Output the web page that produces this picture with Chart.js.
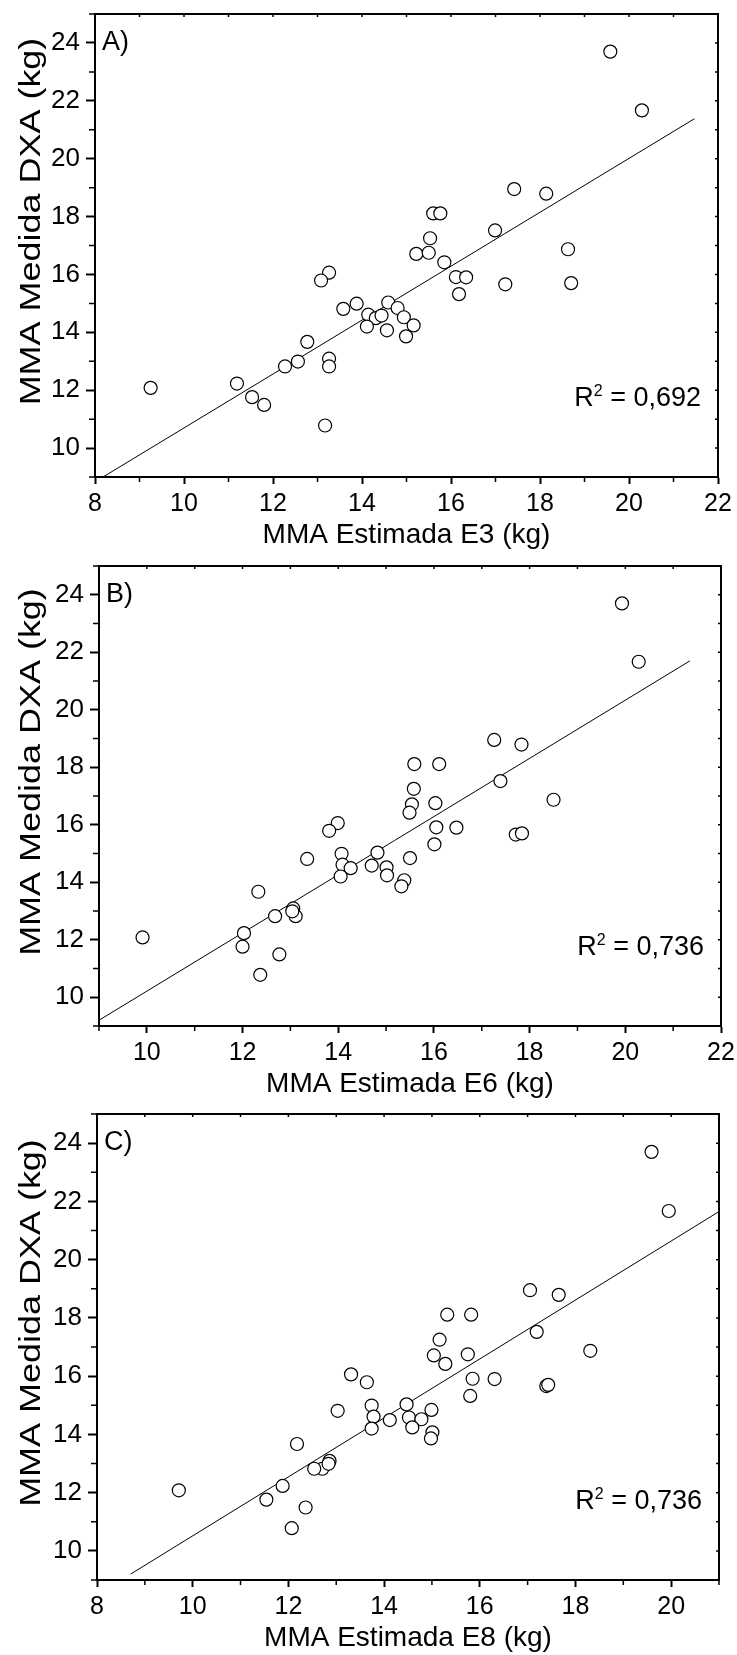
<!DOCTYPE html>
<html>
<head>
<meta charset="utf-8">
<script src="https://cdn.jsdelivr.net/npm/chart.js@4.4.0/dist/chart.umd.min.js"></script>
<style>
html, body { margin: 0; padding: 0; background: #fff; overflow: hidden; }
#wrap { position: relative; width: 737px; height: 1655px; }
canvas { position: absolute; left: 0; }
</style>
</head>
<body>
<div id="wrap">
  <canvas id="chartA" width="737" height="552" style="top:0px"></canvas>
  <canvas id="chartB" width="737" height="549" style="top:552px"></canvas>
  <canvas id="chartC" width="737" height="555" style="top:1100px"></canvas>
</div>
<script>
// MMA medida por DXA (mesmo individuo na mesma posicao em cada painel)
const mmaDXA = [23.70, 21.67, 18.95, 18.79, 18.11, 18.11, 17.52, 17.25, 16.87, 16.71,
  16.75, 16.42, 16.06, 15.79, 15.91, 15.90, 15.66, 15.70, 15.32, 14.81,
  14.99, 15.03, 14.84, 14.61, 14.49, 14.58, 14.52, 14.20, 14.07, 14.24,
  13.86, 13.67, 13.09, 12.82, 12.99, 12.82, 12.08, 12.23, 11.76, 11.49, 10.78];

// MMA estimada por cada equacao
const mmaE3 = [19.58, 20.29, 17.42, 18.14, 15.60, 15.76, 16.99, 15.53, 18.63, 15.22,
  15.50, 15.85, 13.26, 13.08, 16.11, 16.34, 17.22, 18.70, 16.18, 13.58,
  13.88, 14.59, 14.80, 14.14, 14.31, 14.44, 14.94, 14.11, 14.56, 15.16,
  14.99, 12.77, 13.26, 13.26, 12.56, 12.27, 9.25, 11.19, 11.53, 11.80, 13.17];
const mmaE6 = [19.93, 20.28, 17.26, 17.83, 15.59, 16.11, 17.39, 15.58, 18.50, 15.54,
  16.03, 15.49, 13.99, 13.81, 16.05, 16.47, 17.71, 17.84, 16.01, 13.35,
  14.07, 14.82, 15.50, 14.09, 14.26, 14.70, 15.01, 14.05, 15.38, 15.02,
  15.32, 12.33, 13.06, 13.11, 13.04, 12.68, 9.91, 12.03, 12.00, 12.77, 12.37];
const mmaE8 = [19.59, 19.95, 17.05, 17.65, 15.32, 15.82, 17.19, 15.16, 18.31, 15.04,
  15.75, 15.28, 13.31, 13.64, 15.85, 16.31, 17.39, 17.43, 15.80, 13.03,
  13.74, 14.47, 14.99, 13.78, 14.12, 14.52, 14.78, 13.74, 15.01, 14.59,
  14.98, 12.18, 12.86, 12.71, 12.84, 12.54, 9.71, 11.88, 11.54, 12.36, 12.07];

// retas de regressao (extremos)
const fitE3x = [8.18, 21.47], fitE3y = [9.0, 21.38];
const fitE6x = [9.0, 21.35], fitE6y = [9.2, 21.7];
const fitE8x = [8.7, 21.0], fitE8y = [9.2, 21.65];

const xTicksE3 = [8, 10, 12, 14, 16, 18, 20, 22];
const xTicksE6 = [10, 12, 14, 16, 18, 20, 22];
const xTicksE8 = [8, 10, 12, 14, 16, 18, 20];
const yTicks = [10, 12, 14, 16, 18, 20, 22, 24];

const r2Values = ['0,692', '0,736', '0,736'];
const panelLetters = ['A)', 'B)', 'C)'];
const yTitle = 'MMA Medida DXA (kg)';

Chart.defaults.font.family = '"Liberation Sans", Arial, sans-serif';
Chart.defaults.color = '#000';

// caixa, ticks menores, letra do painel, R2 e titulo do eixo y
const frame = {
  id: 'frame',
  afterDraw(chart, args, opts) {
    const { ctx, chartArea: a, scales: { x, y } } = chart;
    ctx.save();
    ctx.strokeStyle = '#000';
    ctx.lineWidth = 2;
    ctx.beginPath();
    ctx.moveTo(a.left - 1, a.top);
    ctx.lineTo(a.right, a.top);
    ctx.lineTo(a.right, a.bottom + 1);
    ctx.stroke();

    ctx.lineWidth = 1.5;
    ctx.beginPath();
    for (let v = Math.ceil(x.min); v <= x.max; v++) {
      const px = x.getPixelForValue(v);
      if (v % 2) { ctx.moveTo(px, a.bottom); ctx.lineTo(px, a.bottom + 5); }
      ctx.moveTo(px, a.top); ctx.lineTo(px, a.top + 3);
    }
    for (let v = Math.ceil(y.min); v <= y.max; v++) {
      const py = y.getPixelForValue(v);
      if (v % 2) { ctx.moveTo(a.left, py); ctx.lineTo(a.left - 6, py); }
      ctx.moveTo(a.right, py); ctx.lineTo(a.right - 3, py);
    }
    ctx.stroke();

    ctx.fillStyle = '#000';
    ctx.textBaseline = 'alphabetic';
    ctx.textAlign = 'left';
    ctx.font = '27px "Liberation Sans", Arial, sans-serif';
    ctx.fillText(opts.letter, a.left + 7, a.top + 36);

    // R^2 = ...
    const rest = ' = ' + opts.r2;
    const xr = a.right - 17, yb = a.bottom - 71;
    const wRest = ctx.measureText(rest).width;
    const wR = ctx.measureText('R').width;
    ctx.font = '16px "Liberation Sans", Arial, sans-serif';
    const wSup = ctx.measureText('2').width;
    ctx.fillText('2', xr - wRest - wSup, yb - 10);
    ctx.font = '27px "Liberation Sans", Arial, sans-serif';
    ctx.fillText(rest, xr - wRest, yb);
    ctx.fillText('R', xr - wRest - wSup - wR, yb);

    // titulo do eixo y
    ctx.translate(32, (a.top + a.bottom) / 2 - 24);
    ctx.rotate(-Math.PI / 2);
    ctx.scale(1.24, 1);
    ctx.textAlign = 'center';
    ctx.textBaseline = 'middle';
    ctx.font = '29px "Liberation Sans", Arial, sans-serif';
    ctx.fillText(yTitle, 0, 0);
    ctx.restore();
  }
};

function makeChart(id, xs, fitX, fitY, xMin, xMax, xTicks, xTitle, yWidth, padRight, k) {
  const points = xs.map((v, i) => ({ x: v, y: mmaDXA[i] }));
  const fit = fitX.map((v, i) => ({ x: v, y: fitY[i] }));
  return new Chart(document.getElementById(id), {
    type: 'scatter',
    data: {
      datasets: [
        {
          data: points, order: 1,
          pointRadius: 6.5, pointBorderWidth: 1.2,
          pointBackgroundColor: '#fff', pointBorderColor: '#000'
        },
        {
          type: 'line', data: fit, order: 2, showLine: true, fill: false,
          borderColor: '#000', borderWidth: 1, pointRadius: 0
        }
      ]
    },
    options: {
      responsive: false,
      animation: false,
      devicePixelRatio: 1,
      layout: { padding: { top: 14, right: padRight, left: 0, bottom: 0 } },
      plugins: {
        legend: { display: false },
        tooltip: { enabled: false },
        frame: { letter: panelLetters[k], r2: r2Values[k] }
      },
      scales: {
        x: {
          type: 'linear', min: xMin, max: xMax,
          afterBuildTicks: s => { s.ticks = xTicks.map(v => ({ value: v })); },
          afterFit: s => { s.height = 75; s.paddingLeft = 0; s.paddingRight = 0; },
          ticks: { font: { size: 25 }, color: '#000', padding: 5, maxRotation: 0, autoSkip: false },
          grid: { drawOnChartArea: false, tickLength: 7, tickWidth: 2, tickColor: '#000' },
          border: { color: '#000', width: 2 },
          title: { display: true, text: xTitle, font: { size: 28 }, color: '#000', padding: 0 }
        },
        y: {
          type: 'linear', min: 9, max: 25,
          afterBuildTicks: s => { s.ticks = yTicks.map(v => ({ value: v })); },
          afterFit: s => { s.width = yWidth; s.paddingTop = 0; s.paddingBottom = 0; },
          ticks: { font: { size: 26 }, color: '#000', padding: 6, autoSkip: false },
          grid: { drawOnChartArea: false, tickLength: 9, tickWidth: 2, tickColor: '#000' },
          border: { color: '#000', width: 2 }
        }
      }
    },
    plugins: [frame]
  });
}

makeChart('chartA', mmaE3, fitE3x, fitE3y, 8, 22, xTicksE3, 'MMA Estimada E3 (kg)', 95, 19, 0);
makeChart('chartB', mmaE6, fitE6x, fitE6y, 9, 22, xTicksE6, 'MMA Estimada E6 (kg)', 99, 16, 1);
makeChart('chartC', mmaE8, fitE8x, fitE8y, 8, 21, xTicksE8, 'MMA Estimada E8 (kg)', 97, 18, 2);
</script>
</body>
</html>
